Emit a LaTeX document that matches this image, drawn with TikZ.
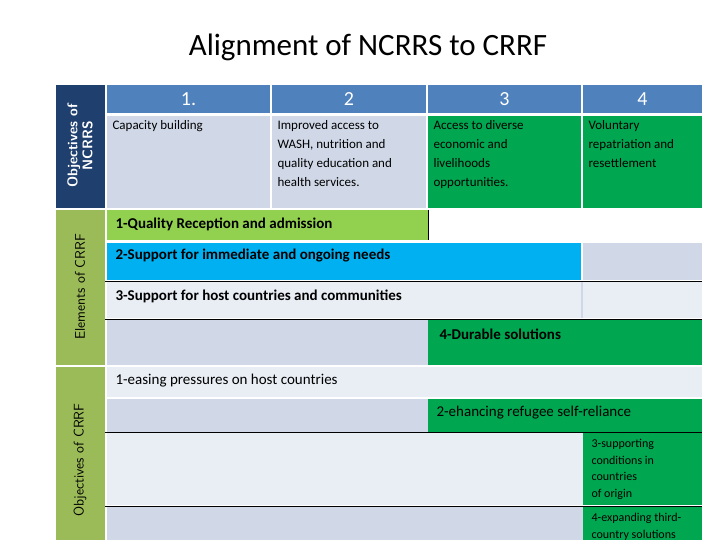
\documentclass[tikz,border=0pt]{standalone}
\usepackage{fontspec}
\setmainfont{Carlito}
\usetikzlibrary{calc}
\definecolor{hdrblue}{HTML}{4F81BD}
\definecolor{navy}{HTML}{1F3F6E}
\definecolor{olive}{HTML}{9BBB59}
\definecolor{cellgray}{HTML}{D0D8E8}
\definecolor{celllight}{HTML}{E9EDF4}
\definecolor{dgreen}{HTML}{00A650}
\definecolor{lime}{HTML}{92D050}
\definecolor{sky}{HTML}{00B0F0}
\tikzset{
  cell/.style={inner sep=0pt,outer sep=0pt},
  txt/.style={anchor=north west,align=left,font=\fontsize{13}{19}\selectfont},
  band/.style={anchor=west,font=\fontsize{15}{18}\selectfont\bfseries},
  side/.style={rotate=90,font=\fontsize{14}{15}\selectfont\sffamily,align=center}
}
\begin{document}
\begin{tikzpicture}[x=1pt,y=-1pt]
            \useasboundingbox (0,0) rectangle (720,540);
            \node[font=\fontsize{31}{36}\selectfont] (title) at (368,47) {Alignment of NCRRS to CRRF};
            % side bars
            \fill[navy] (56,85) rectangle (105,208);
            \fill[olive] (56,210) rectangle (105,365);
            \fill[olive] (56,367) rectangle (105,540);
            \node[side,white,font=\fontsize{14}{15}\selectfont\sffamily\bfseries] (sA) at (80,146) {Objectives of\\NCRRS};
            \node[side] (sB) at (80,287) {Elements of CRRF};
            \node[side] (sC) at (80,460) {Objectives of CRRF};
            % header
            \foreach \a/\b/\t [count=\i] in {107/270/1.,272/426/2,428/581/3,583/702/4}{
                \fill[hdrblue] (\a,85) rectangle (\b,113);
                \node[white,font=\fontsize{20}{22}\selectfont] (h\i) at ({(\a+\b)/2},99) {\t};
            }
            \fill[cellgray] (107,116) rectangle (270,208);
            \fill[cellgray] (272,116) rectangle (426,208);
            \fill[dgreen] (428,116) rectangle (581,208);
            \fill[dgreen] (583,116) rectangle (702,208);
            \node[txt] (o1) at (109,117) {Capacity building};
            \node[txt] (o2) at (274,117) {Improved access to\\WASH, nutrition and\\quality education and\\health services.};
            \node[txt] (o3) at (430,117) {Access to diverse\\economic and\\livelihoods\\opportunities.};
            \node[txt] (o4) at (585,117) {Voluntary\\repatriation and\\resettlement};
            % elements of CRRF
            \fill[lime] (107,210) rectangle (428,240);
            \draw[thick] (428,210) -- (428,240);
            \node[band] (e1) at (112,224) {1-Quality Reception and admission};
            \fill[sky] (107,243) rectangle (581,280);
            \fill[cellgray] (583,243) rectangle (702,280);
            \node[band] (e2) at (112,256) {2-Support for immediate and ongoing needs};
            \fill[celllight] (107,281) rectangle (702,318);
            \fill[cellgray] (581,281) rectangle (583,318);
            \node[band] (e3) at (112,296) {3-Support for host countries and communities};
            \fill[cellgray] (107,319) rectangle (428,365);
            \fill[dgreen] (428,319) rectangle (702,365);
            \node[band] (e4) at (436,334) {4-Durable solutions};
            \draw[thick] (105,281) -- (702,281);
            \draw[thick] (105,319) -- (702,319);
            % objectives of CRRF
            \fill[celllight] (107,367) rectangle (702,397);
            \node[band,font=\fontsize{15}{18}\selectfont] (c1) at (112,381) {1-easing pressures on host countries};
            \fill[cellgray] (107,399) rectangle (428,432);
            \fill[dgreen] (428,399) rectangle (702,432);
            \node[band,font=\fontsize{15}{18}\selectfont] (c2) at (433,413) {2-ehancing refugee self-reliance};
            \fill[celllight] (107,433) rectangle (583,505);
            \fill[dgreen] (583,433) rectangle (702,505);
            \node[txt,font=\fontsize{12}{16.5}\selectfont] (c3) at (588,436) {3-supporting\\conditions in\\countries\\of origin};
            \fill[cellgray] (107,507) rectangle (583,540);
            \fill[dgreen] (583,507) rectangle (702,540);
            \node[txt,font=\fontsize{12}{16.5}\selectfont] (c4) at (588,510) {4-expanding third-\\country solutions};
            \draw[thick] (105,432) -- (702,432);
            \draw[thick] (105,506) -- (702,506);
        \end{tikzpicture}
\end{document}
